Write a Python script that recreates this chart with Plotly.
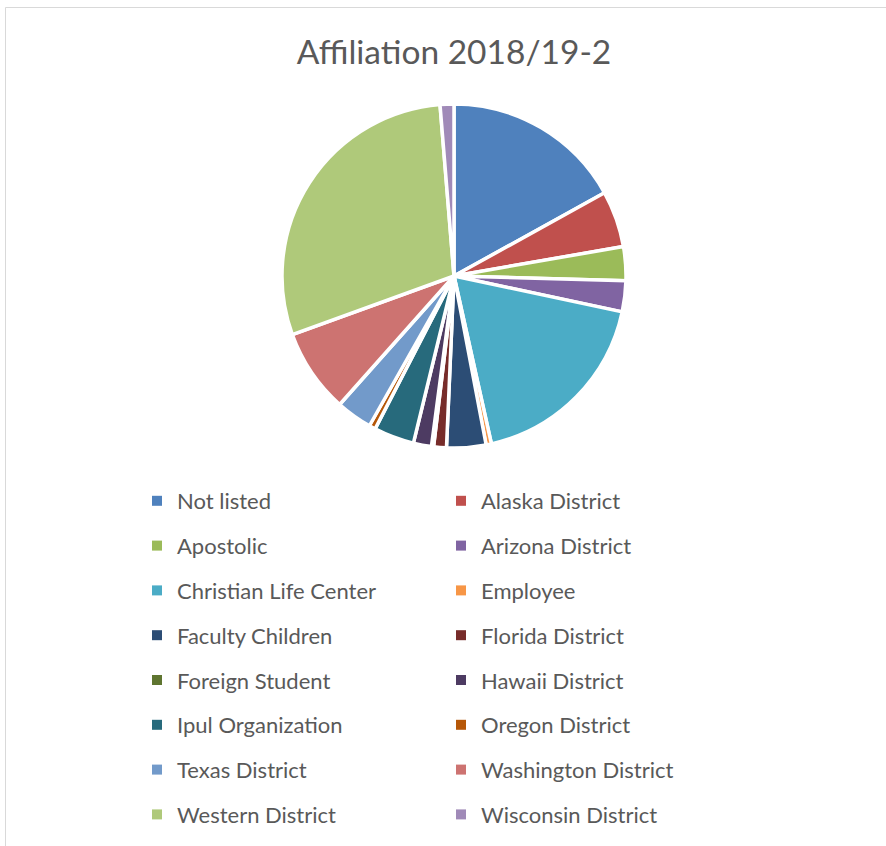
import plotly.graph_objects as go

categories = ["Not listed", "Alaska District", "Apostolic", "Arizona District",
              "Christian Life Center", "Employee", "Faculty Children", "Florida District",
              "Foreign Student", "Hawaii District", "Ipul Organization", "Oregon District",
              "Texas District", "Washington District", "Western District", "Wisconsin District"]
values = [17.0, 5.3, 3.2, 2.9, 18.2, 0.5, 3.7, 1.2, 0.2, 1.7, 3.8, 0.6, 3.4, 7.9, 29.3, 1.3]
colors = ["#4F81BD", "#C0504D", "#9BBB59", "#8064A2", "#4BACC6", "#F79646", "#2C4D75",
          "#772C2A", "#5F7530", "#4D3B62", "#276A7C", "#B65708", "#729ACA", "#CD7371",
          "#AFC97A", "#A08AB8"]

W, H = 886, 846
cx, cy, r = 454, 276, 172

fig = go.Figure()
fig.add_trace(go.Pie(
    labels=categories, values=values, sort=False, direction="clockwise", rotation=0,
    marker=dict(colors=colors, line=dict(color="white", width=3.5)),
    textinfo="none", showlegend=False,
    domain=dict(x=[(cx - r) / W, (cx + r) / W], y=[(H - cy - r) / H, (H - cy + r) / H]),
))

for i, (c, col) in enumerate(zip(categories, colors)):
    fig.add_trace(go.Scatter(
        x=[None], y=[None], mode="markers", name=c, legendgroup=c,
        marker=dict(symbol="square", size=10, color=col),
        legend="legend" if i % 2 == 0 else "legend2",
    ))

legend_common = dict(
    font=dict(family="Lato", size=22, color="#595959"),
    orientation="v", tracegroupgap=13.2, itemwidth=30,
    bgcolor="rgba(0,0,0,0)", yanchor="top", xanchor="left",
)
fig.update_layout(
    width=W, height=H,
    margin=dict(l=0, r=0, t=0, b=0),
    paper_bgcolor="white", plot_bgcolor="white",
    title=dict(text="Affiliation 2018/19-2", x=454 / W, xanchor="center",
               y=1 - 52 / H, yanchor="middle",
               font=dict(family="Lato", size=33.5, color="#595959")),
    xaxis=dict(visible=False), yaxis=dict(visible=False),
    legend=dict(x=137 / W, y=1 - 480 / H, **legend_common),
    legend2=dict(x=441 / W, y=1 - 480 / H, **legend_common),
    shapes=[dict(type="rect", xref="paper", yref="paper",
                 x0=5.5 / W, x1=1.05, y0=-0.05, y1=1 - 7.5 / H,
                 line=dict(color="#D9D9D9", width=1), fillcolor="rgba(0,0,0,0)",
                 layer="below")],
)

fig.write_html("out.html", config={"displayModeBar": False},
               post_script="document.body.style.margin='0';document.body.style.overflow='hidden';")
